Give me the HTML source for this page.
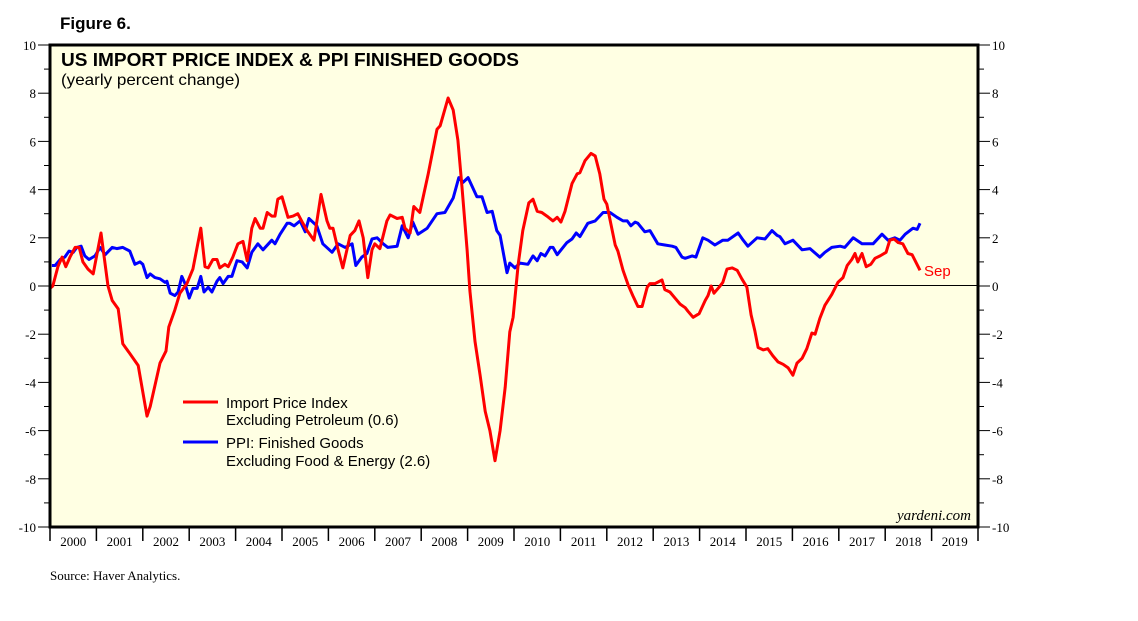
<!DOCTYPE html>
<html><head><meta charset="utf-8"><style>
body{margin:0;background:#fff;}
svg{display:block;font-family:"Liberation Sans",sans-serif;}
</style></head><body>
<svg id="chart" width="1138" height="621" viewBox="0 0 1138 621">
<text x="60" y="29" font-size="17" font-weight="bold">Figure 6.</text>
<rect x="50" y="45" width="928" height="482" fill="#ffffe3" stroke="none"/>
<g id="axes"></g>
<line x1="50" x2="978" y1="285.5" y2="285.5" stroke="#000" stroke-width="1"/>
<g id="series"></g>
<rect x="50" y="45" width="928" height="482" fill="none" stroke="#000" stroke-width="3"/>
<text x="61" y="66" font-size="18" font-weight="bold" textLength="458" lengthAdjust="spacingAndGlyphs">US IMPORT PRICE INDEX &amp; PPI FINISHED GOODS</text>
<text x="61" y="85" font-size="16" textLength="179" lengthAdjust="spacingAndGlyphs">(yearly percent change)</text>
<g>
<line x1="183" x2="218" y1="402" y2="402" stroke="#f00" stroke-width="3"/>
<text x="226" y="408" font-size="15">Import Price Index</text>
<text x="226" y="425" font-size="15">Excluding Petroleum (0.6)</text>
<line x1="183" x2="218" y1="442" y2="442" stroke="#00f" stroke-width="3"/>
<text x="226" y="448" font-size="15">PPI: Finished Goods</text>
<text x="226" y="466" font-size="15">Excluding Food &amp; Energy (2.6)</text>
</g>
<text x="924" y="276" font-size="15" fill="#f00">Sep</text>
<text x="971" y="520" font-size="15" font-style="italic" text-anchor="end" font-family="Liberation Serif, serif">yardeni.com</text>
<text x="50" y="580" font-size="13" font-family="Liberation Serif, serif">Source: Haver Analytics.</text>
</svg>
<script>
const yTicks=[10,8,6,4,2,0,-2,-4,-6,-8,-10];
const years=[2000,2001,2002,2003,2004,2005,2006,2007,2008,2009,2010,2011,2012,2013,2014,2015,2016,2017,2018,2019];
const redDates=[2000.00,2000.06,2000.17,2000.26,2000.34,2000.43,2000.54,2000.63,2000.71,2000.82,2000.93,2001.10,2001.25,2001.34,2001.47,2001.57,2001.72,2001.90,2002.09,2002.16,2002.37,2002.50,2002.56,2002.69,2002.80,2002.95,2003.08,2003.25,2003.34,2003.41,2003.51,2003.60,2003.66,2003.77,2003.84,2003.94,2004.05,2004.16,2004.25,2004.35,2004.42,2004.53,2004.59,2004.68,2004.78,2004.85,2004.91,2005.00,2005.13,2005.24,2005.34,2005.45,2005.54,2005.69,2005.84,2005.97,2006.03,2006.10,2006.21,2006.31,2006.47,2006.57,2006.66,2006.75,2006.85,2006.94,2007.00,2007.11,2007.26,2007.33,2007.48,2007.59,2007.65,2007.76,2007.84,2007.97,2008.15,2008.34,2008.41,2008.58,2008.69,2008.79,2008.88,2008.99,2009.05,2009.16,2009.27,2009.38,2009.48,2009.59,2009.70,2009.81,2009.91,2009.98,2010.09,2010.19,2010.32,2010.41,2010.50,2010.60,2010.71,2010.84,2010.93,2011.01,2011.10,2011.25,2011.36,2011.42,2011.53,2011.66,2011.75,2011.85,2011.94,2012.00,2012.18,2012.24,2012.35,2012.46,2012.56,2012.67,2012.76,2012.87,2012.93,2013.04,2013.19,2013.25,2013.36,2013.47,2013.58,2013.69,2013.75,2013.86,2013.99,2014.12,2014.18,2014.25,2014.31,2014.42,2014.50,2014.59,2014.70,2014.81,2014.91,2015.02,2015.11,2015.19,2015.26,2015.37,2015.47,2015.58,2015.69,2015.80,2015.91,2016.01,2016.10,2016.21,2016.31,2016.42,2016.49,2016.59,2016.70,2016.85,2016.98,2017.09,2017.18,2017.28,2017.35,2017.41,2017.50,2017.59,2017.69,2017.78,2017.89,2018.02,2018.10,2018.19,2018.28,2018.38,2018.49,2018.58,2018.75];
const redValues=[-0.1,0,0.8,1.2,0.8,1.2,1.6,1.6,1.0,0.7,0.5,2.2,0,-0.6,-0.95,-2.4,-2.8,-3.3,-5.4,-5.0,-3.2,-2.7,-1.7,-1.0,-0.3,0.1,0.7,2.4,0.8,0.75,1.1,1.1,0.75,0.9,0.8,1.2,1.75,1.85,1.05,2.4,2.8,2.4,2.4,3.05,2.9,2.9,3.6,3.7,2.85,2.9,3.0,2.6,2.3,1.9,3.8,2.7,2.4,2.4,1.5,0.75,2.1,2.3,2.7,2.0,0.35,1.5,1.75,1.55,2.7,2.95,2.8,2.85,2.4,2.2,3.3,3.05,4.65,6.5,6.65,7.8,7.3,6.05,4.1,1.5,-0.2,-2.3,-3.7,-5.2,-6.0,-7.25,-6.0,-4.2,-1.9,-1.3,0.9,2.3,3.45,3.6,3.1,3.05,2.9,2.7,2.85,2.65,3.1,4.25,4.65,4.7,5.2,5.5,5.4,4.65,3.6,3.4,1.7,1.45,0.65,0.05,-0.4,-0.85,-0.85,-0.05,0.1,0.1,0.25,-0.15,-0.25,-0.5,-0.75,-0.9,-1.05,-1.3,-1.15,-0.6,-0.4,0,-0.3,-0.05,0.15,0.7,0.75,0.65,0.3,-0.05,-1.2,-1.85,-2.55,-2.65,-2.6,-2.9,-3.15,-3.25,-3.4,-3.7,-3.2,-3.0,-2.6,-1.95,-2.0,-1.35,-0.8,-0.35,0.15,0.35,0.85,1.1,1.35,1.0,1.35,0.8,0.9,1.15,1.25,1.4,1.9,1.95,1.8,1.75,1.35,1.3,0.65];
const blueDates=[2000.04,2000.11,2000.22,2000.32,2000.41,2000.50,2000.58,2000.67,2000.75,2000.84,2000.97,2001.08,2001.19,2001.34,2001.44,2001.57,2001.72,2001.83,2001.94,2002.00,2002.09,2002.16,2002.26,2002.37,2002.48,2002.52,2002.59,2002.69,2002.76,2002.84,2002.91,2003.00,2003.08,2003.17,2003.25,2003.32,2003.41,2003.49,2003.60,2003.66,2003.73,2003.84,2003.92,2004.03,2004.14,2004.25,2004.35,2004.48,2004.59,2004.78,2004.85,2004.96,2005.11,2005.17,2005.26,2005.39,2005.50,2005.58,2005.75,2005.88,2006.08,2006.21,2006.36,2006.51,2006.59,2006.72,2006.83,2006.94,2007.05,2007.18,2007.28,2007.48,2007.59,2007.72,2007.82,2007.93,2008.13,2008.34,2008.51,2008.69,2008.81,2008.90,2009.01,2009.20,2009.31,2009.42,2009.53,2009.63,2009.70,2009.85,2009.91,2010.02,2010.13,2010.30,2010.41,2010.50,2010.58,2010.67,2010.78,2010.84,2010.93,2011.14,2011.25,2011.34,2011.42,2011.59,2011.75,2011.92,2012.07,2012.22,2012.35,2012.44,2012.52,2012.61,2012.67,2012.82,2012.93,2013.10,2013.25,2013.41,2013.49,2013.62,2013.69,2013.84,2013.92,2014.07,2014.18,2014.33,2014.50,2014.61,2014.83,2014.94,2015.04,2015.24,2015.41,2015.56,2015.67,2015.73,2015.84,2016.01,2016.21,2016.38,2016.59,2016.70,2016.85,2017.03,2017.13,2017.31,2017.50,2017.61,2017.74,2017.93,2018.06,2018.21,2018.32,2018.43,2018.60,2018.69,2018.75];
const blueValues=[0.85,0.85,1.1,1.2,1.45,1.4,1.6,1.65,1.25,1.1,1.25,1.6,1.3,1.6,1.55,1.6,1.45,0.9,1.0,0.9,0.35,0.5,0.35,0.3,0.15,0.2,-0.3,-0.4,-0.25,0.4,0.1,-0.5,-0.1,-0.1,0.4,-0.25,-0.05,-0.25,0.2,0.35,0.1,0.4,0.4,1.05,1.0,0.75,1.4,1.75,1.5,1.9,1.75,2.15,2.6,2.6,2.5,2.7,2.25,2.8,2.5,1.75,1.4,1.75,1.6,1.75,0.85,1.2,1.35,1.95,2.0,1.75,1.6,1.65,2.5,2.0,2.65,2.15,2.4,3.0,3.05,3.65,4.5,4.3,4.5,3.7,3.7,3.05,3.1,2.3,2.1,0.55,0.95,0.75,0.95,0.9,1.25,1.05,1.35,1.25,1.6,1.6,1.3,1.8,1.95,2.2,2.05,2.6,2.7,3.05,3.05,2.85,2.7,2.7,2.5,2.65,2.6,2.25,2.3,1.75,1.7,1.65,1.6,1.2,1.15,1.25,1.2,2.0,1.9,1.7,1.9,1.9,2.2,1.9,1.65,2.0,1.95,2.3,2.1,2.05,1.75,1.9,1.5,1.55,1.2,1.4,1.6,1.65,1.6,2.0,1.75,1.75,1.75,2.15,1.9,2.0,1.9,2.15,2.4,2.35,2.6];

const NS='http://www.w3.org/2000/svg';
const X0=50,X1=978,Y0=45,Y1=527;
function xScale(t){return X0+(t-2000)*(X1-X0)/20;}
function yScale(v){return Y0+(10-v)*(Y1-Y0)/20;}
function mk(tag,attrs,parent){const e=document.createElementNS(NS,tag);for(const k in attrs)e.setAttribute(k,attrs[k]);parent.appendChild(e);return e;}
const axes=document.getElementById('axes');
yTicks.forEach(v=>{
  const y=yScale(v);
  let t=mk('line',{x1:38,x2:X0,y1:y,y2:y,stroke:'#000','stroke-width':1},axes);
  
  
  t=mk('line',{x1:X1,x2:990,y1:y,y2:y,stroke:'#000','stroke-width':1},axes);
  
  
  let l=mk('text',{x:36,y:y+5,'font-size':13,'text-anchor':'end','font-family':'Liberation Serif, serif'},axes);
  l.textContent=v;
  
  
  l=mk('text',{x:992,y:y+5,'font-size':13,'font-family':'Liberation Serif, serif'},axes);
  l.textContent=v;
  
  
  if(v>-10){
    const ym=yScale(v-1);
    let m=mk('line',{x1:44,x2:X0,y1:ym,y2:ym,stroke:'#000','stroke-width':1},axes);
    
    
    m=mk('line',{x1:X1,x2:984,y1:ym,y2:ym,stroke:'#000','stroke-width':1},axes);
    
    
  }
});
years.concat([2020]).forEach(yr=>{
  const x=xScale(yr);
  const t=mk('line',{x1:x,x2:x,y1:Y1,y2:541,stroke:'#000','stroke-width':1.5},axes);
  
  
});
years.forEach(yr=>{
  const l=mk('text',{x:xScale(yr+0.5),y:546,'font-size':13,'text-anchor':'middle','font-family':'Liberation Serif, serif'},axes);
  l.textContent=yr;
  
  
});
const series=document.getElementById('series');
function draw(dates,vals,color,name){
  const d=dates.map((t,i)=>(i?'L':'M')+xScale(t).toFixed(1)+' '+yScale(vals[i]).toFixed(1)).join(' ');
  const p=mk('path',{d:d,fill:'none',stroke:color,'stroke-width':3,'stroke-linejoin':'round'},series);
  
  
}
draw(blueDates,blueValues,'#0000ff','ppi-finished-goods-line');
draw(redDates,redValues,'#ff0000','import-price-index-line');
</script>
</body></html>
